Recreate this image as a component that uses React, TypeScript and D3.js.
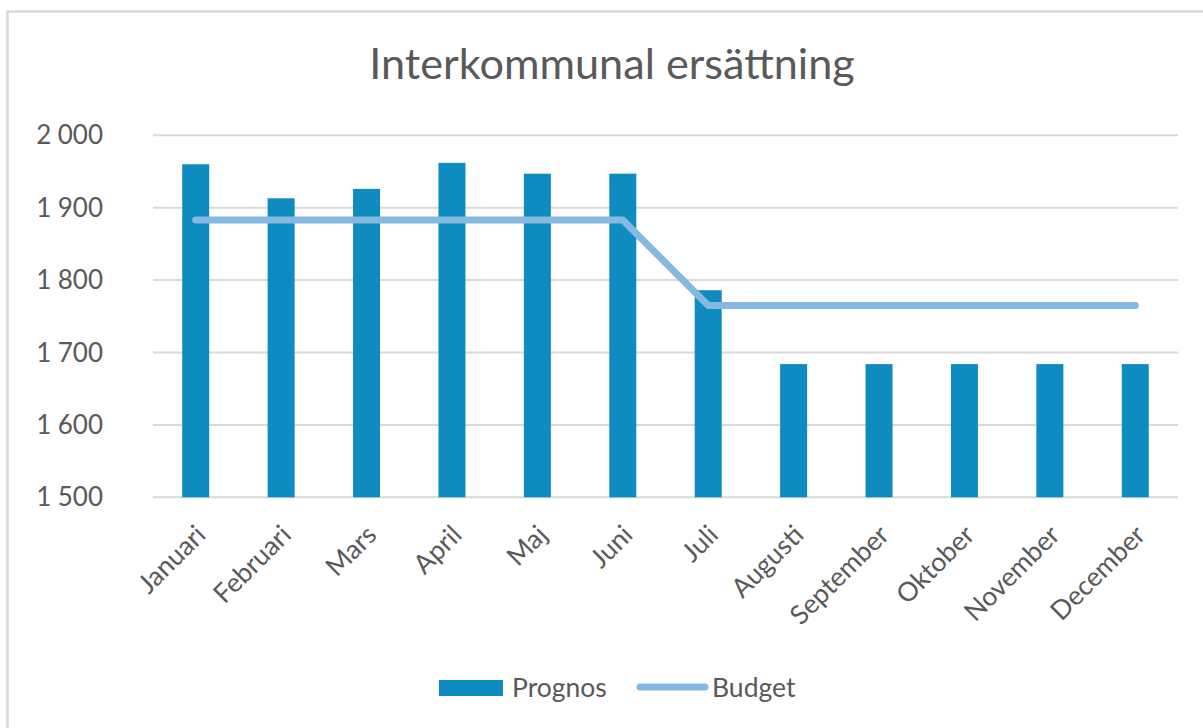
import * as d3 from 'd3';

const months = [
  'Januari', 'Februari', 'Mars', 'April', 'Maj', 'Juni',
  'Juli', 'Augusti', 'September', 'Oktober', 'November', 'December',
];
const prognos = [1960, 1913, 1926, 1962, 1947, 1947, 1786, 1684, 1684, 1684, 1684, 1684];
const budget = [1883, 1883, 1883, 1883, 1883, 1883, 1765, 1765, 1765, 1765, 1765, 1765];
const yTicks = [1500, 1600, 1700, 1800, 1900, 2000];

const W = 1203;
const H = 728;
const left = 153;
const right = 1178;
const top = 135.3;
const bottom = 497.3;
const barColor = '#0e8bbf';
const lineColor = '#85b9e0';
const textColor = '#595959';
const font = 'Lato, "Noto Sans", sans-serif';

export default function App() {
  const x = d3.scaleBand<string>().domain(months).range([left, right]).paddingInner(0.684).paddingOuter(0.342);
  const y = d3.scaleLinear().domain([1500, 2000]).range([bottom, top]);
  const cx = (m: string) => (x(m) ?? 0) + x.bandwidth() / 2;
  const fmt = (v: number) => d3.format(',')(v).replace(',', '\u202f');

  const line = d3
    .line<number>()
    .x((_, i) => cx(months[i]))
    .y((d) => y(d));

  return (
    <svg
      width={W}
      height={H}
      style={{ position: 'absolute', left: 0, top: 0, background: '#fff' }}
      fontFamily={font}
    >
      <rect x={7.5} y={11.5} width={W + 10} height={H + 10} fill='#fff' stroke='#d9d9d9' strokeWidth={2.5} />

      <text x={612} y={79} textAnchor='middle' fontSize={43.2} fill={textColor}>
        Interkommunal ersättning
      </text>

      <g>
        {yTicks.map((t) => (
          <g key={t}>
            <line x1={left} x2={right} y1={y(t)} y2={y(t)} stroke='#d9d9d9' strokeWidth={2} />
            <text x={103} y={y(t)} dy='0.35em' textAnchor='end' fontSize={26} fill={textColor}>
              {fmt(t)}
            </text>
          </g>
        ))}
      </g>

      <g>
        {months.map((m, i) => (
          <rect
            key={m}
            x={x(m)}
            y={y(prognos[i])}
            width={x.bandwidth()}
            height={y(1500) - y(prognos[i])}
            fill={barColor}
          />
        ))}
      </g>

      <path
        d={line(budget) ?? ''}
        fill='none'
        stroke={lineColor}
        strokeWidth={7}
        strokeLinecap='round'
        strokeLinejoin='round'
      />

      <g>
        {months.map((m) => (
          <text
            key={m}
            transform={`translate(${cx(m) + 5},${530}) rotate(-45)`}
            dy='0.35em'
            textAnchor='end'
            fontSize={26.5}
            fill={textColor}
          >
            {m}
          </text>
        ))}
      </g>

      <g>
        <rect x={439} y={680} width={64} height={16} fill={barColor} />
        <text x={512} y={688} dy='0.35em' fontSize={26.5} fill={textColor}>
          Prognos
        </text>
        <line x1={640} x2={705} y1={687} y2={687} stroke={lineColor} strokeWidth={7} strokeLinecap='round' />
        <text x={712} y={688} dy='0.35em' fontSize={26.5} fill={textColor}>
          Budget
        </text>
      </g>
    </svg>
  );
}
